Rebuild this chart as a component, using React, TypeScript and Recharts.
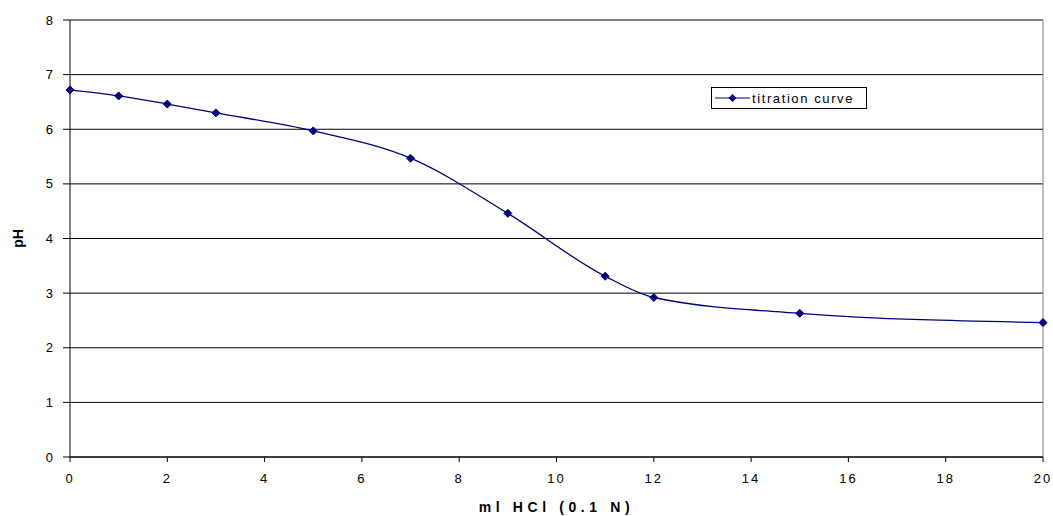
import React from 'react';
import { LineChart, Line, XAxis, YAxis, CartesianGrid, Legend, ReferenceLine } from 'recharts';

const mlHCl = [0, 1, 2, 3, 5, 7, 9, 11, 12, 15, 20];
const pH = [6.72, 6.61, 6.46, 6.3, 5.97, 5.47, 4.46, 3.31, 2.92, 2.63, 2.46];
const xTicks = [0, 2, 4, 6, 8, 10, 12, 14, 16, 18, 20];
const yTicks = [0, 1, 2, 3, 4, 5, 6, 7, 8];

const data = mlHCl.map((x, i) => ({ x, pH: pH[i] }));

const NAVY = '#000080';
const FONT = '"Liberation Sans", Arial, sans-serif';

const Diamond = (props: any) => {
  const { cx, cy } = props;
  if (cx == null || cy == null) return null;
  const r = 4;
  return (
    <polygon
      points={`${cx},${cy - r} ${cx + r},${cy} ${cx},${cy + r} ${cx - r},${cy}`}
      fill={NAVY}
      stroke={NAVY}
      strokeWidth={1}
    />
  );
};

const LegendBox = () => (
  <div
    style={{
      boxSizing: 'border-box',
      width: 156,
      height: 22,
      border: '1px solid #000',
      background: '#fff',
      display: 'flex',
      alignItems: 'center',
      padding: '0 0 0 3px',
      fontFamily: FONT,
      fontSize: 13,
      letterSpacing: '1.6px',
      color: '#000',
      whiteSpace: 'nowrap',
    }}
  >
    <svg width={35} height={10} style={{ marginRight: 2 }}>
      <line x1={0} y1={5} x2={35} y2={5} stroke={NAVY} strokeWidth={1.2} />
      <polygon points="17.5,1 21.5,5 17.5,9 13.5,5" fill={NAVY} />
    </svg>
    titration curve
  </div>
);

export default function App() {
  return (
    <div style={{ position: 'absolute', left: 0, top: 0, width: 1053, height: 516, background: '#fff' }}>
      <LineChart width={1053} height={516} data={data} margin={{ top: 20, right: 10, bottom: 29, left: 30 }}>
        <CartesianGrid horizontal={true} vertical={false} stroke="#000" strokeWidth={1} />
        <XAxis
          dataKey="x"
          type="number"
          domain={[0, 20]}
          ticks={xTicks}
          interval={0}
          height={30}
          tickSize={5}
          stroke="#000"
          tick={{ fill: '#000', fontSize: 13, fontFamily: FONT, letterSpacing: '2px' }}
          tickMargin={12}
          label={{
            value: 'ml HCl (0.1 N)',
            position: 'bottom',
            offset: 15,
            style: { fill: '#000', fontSize: 14, fontWeight: 'bold', fontFamily: FONT, letterSpacing: '4.6px' },
          }}
        />
        <YAxis
          type="number"
          domain={[0, 8]}
          ticks={yTicks}
          interval={0}
          width={40}
          tickSize={7}
          stroke="#000"
          tick={{ fill: '#000', fontSize: 13, fontFamily: FONT }}
          tickMargin={10}
          label={{
            value: 'pH',
            angle: -90,
            position: 'insideLeft',
            offset: -12,
            style: { fill: '#000', fontSize: 14, fontWeight: 'bold', fontFamily: FONT, textAnchor: 'middle' },
          }}
        />
        <ReferenceLine x={20} stroke="#808080" strokeWidth={1} />
        <Legend
          layout="horizontal"
          verticalAlign="middle"
          align="center"
          wrapperStyle={{ left: 711, top: 87, width: 156, height: 22 }}
          content={() => <LegendBox />}
        />
        <Line
          type="monotone"
          dataKey="pH"
          name="titration curve"
          stroke={NAVY}
          strokeWidth={1.3}
          dot={<Diamond />}
          activeDot={false}
          isAnimationActive={false}
        />
      </LineChart>
    </div>
  );
}
